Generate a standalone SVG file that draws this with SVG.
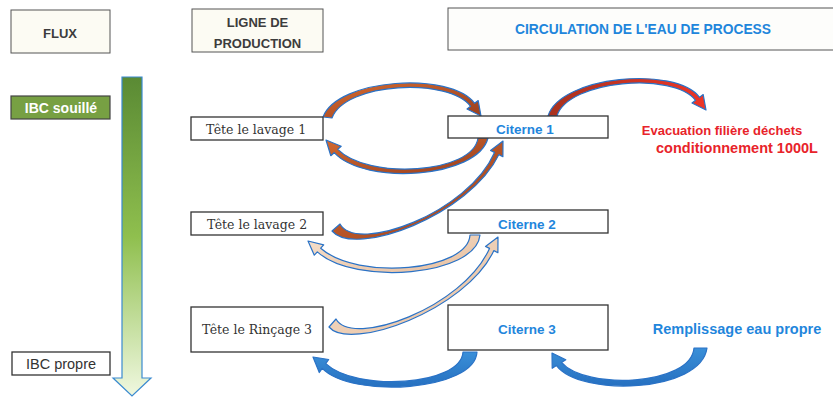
<svg xmlns="http://www.w3.org/2000/svg" width="833" height="397" viewBox="0 0 833 397">
<defs>
<linearGradient id="gGreen" x1="0" y1="0" x2="0" y2="1">
<stop offset="0" stop-color="#5a8a34"/><stop offset="0.5" stop-color="#8fbf4e"/><stop offset="1" stop-color="#f0f8e0"/>
</linearGradient>
<linearGradient id="gBrown" x1="0" y1="0" x2="1" y2="1">
<stop offset="0" stop-color="#d46a30"/><stop offset="1" stop-color="#9a3f1d"/>
</linearGradient>
<linearGradient id="gRed" x1="0" y1="0" x2="1" y2="0">
<stop offset="0" stop-color="#a8321e"/><stop offset="1" stop-color="#ee3526"/>
</linearGradient>
<linearGradient id="gPeach" x1="0" y1="0" x2="1" y2="1">
<stop offset="0" stop-color="#f6e0cc"/><stop offset="1" stop-color="#e7bf9f"/>
</linearGradient>
<linearGradient id="gBlue" x1="0" y1="0" x2="0" y2="1">
<stop offset="0" stop-color="#3a8fd8"/><stop offset="1" stop-color="#2670c0"/>
</linearGradient>
</defs>
<style>
.box{fill:#ffffff;stroke:#333333;stroke-width:1.3}
.hdr{fill:#fcfbf3;stroke:#555555;stroke-width:1}
.hdrt{font-family:"Liberation Sans",Arial,sans-serif;font-weight:bold;font-size:13px;fill:#3c3c3c;text-anchor:middle}
.blt{font-family:"Liberation Sans",Arial,sans-serif;font-weight:bold;font-size:13.5px;fill:#1f86dc}
.red{font-family:"Liberation Sans",Arial,sans-serif;font-weight:bold;font-size:13.5px;fill:#e8232a}
.tete{font-family:"DejaVu Serif","Liberation Serif",serif;font-size:12.5px;fill:#333333;text-anchor:middle}
.arr{stroke:#2a72c6;stroke-width:1.2;stroke-linejoin:round}
</style>

<g id="connectors">
<path class="arr" fill="url(#gBrown)" d="M323,117 C338,78 450.6,71.3 474.6,103.3 L478.2,100.6 L481,116 L467,109 L470.6,106.3 C449,77.5 345,82 332,118 Z"/>
<path class="arr" fill="url(#gBrown)" d="M488,138 C478,178 365,186 334.2,152.7 L330.8,155.7 L326,140 L341.2,146.3 L337.8,149.3 C368,180 473,174 478,138 Z"/>
<path class="arr" fill="url(#gBrown)" d="M332,231 C355,258 470,215 498.9,154.6 L502.9,156.7 L503,141 L490.5,150.4 L494.5,152.4 C468,213 357,254 340,224 Z"/>
<path class="arr" fill="url(#gRed)" d="M548,116 C560,76 675.6,65.3 699.6,97.3 L703.2,94.6 L706,110 L692,103 L695.6,100.3 C674,71.5 568,80 557,116 Z"/>
<path class="arr" fill="url(#gPeach)" d="M480,235 C476,276 355,286 317.3,251.9 L314.3,255.2 L308,241 L323.7,244.8 L320.7,248.2 C358,281 468,271 470,235 Z"/>
<path class="arr" fill="url(#gPeach)" d="M329,327 C350,352 466,310 493.9,250.6 L497.9,252.7 L498,237 L485.5,246.4 L489.5,248.4 C463,308 352,348 336,319 Z"/>
<path class="arr" fill="url(#gBlue)" d="M477,352 C475,391 352,399 322.2,368.4 L319.3,372.5 L313,357 L328.7,359.5 L325.8,363.6 C356,392 461,386 463,352 Z"/>
<path class="arr" fill="url(#gBlue)" d="M707,348 C701,393 580,397 556.5,365.6 L552.2,368.3 L552,353 L565.8,359.7 L561.5,362.4 C585,390 691,386 694,348 Z"/>
</g>

<g id="flux-arrow">
<path d="M122,77 L142,77 L142,378 L151,378 L132,396 L113,378 L122,378 Z" fill="url(#gGreen)" stroke="#3a8ad0" stroke-width="1.2"/>
</g>

<g id="hdr-flux">
<rect class="hdr" x="11" y="10" width="99" height="43"/>
<text class="hdrt" x="60" y="38">FLUX</text>
</g>
<g id="hdr-ligne">
<rect class="hdr" x="192" y="9" width="131" height="43"/>
<text class="hdrt" x="257.5" y="27">LIGNE DE</text>
<text class="hdrt" x="257.5" y="48">PRODUCTION</text>
</g>
<g id="hdr-circulation">
<rect class="hdr" x="448" y="8" width="400" height="42" style="fill:#fdfdfb"/>
<text class="hdrt" x="643" y="34" style="fill:#1f86dc;font-size:13.8px">CIRCULATION DE L'EAU DE PROCESS</text>
</g>

<g id="ibc-souille">
<rect x="11" y="96" width="99" height="23" fill="#77a043" stroke="#444444" stroke-width="1.2"/>
<text x="61" y="113" style="font-family:'Liberation Sans',Arial,sans-serif;font-weight:bold;font-size:14px;fill:#ffffff;text-anchor:middle">IBC souillé</text>
</g>
<g id="ibc-propre">
<rect class="box" x="12" y="352" width="98" height="23"/>
<text x="61" y="369" style="font-family:'Liberation Sans',Arial,sans-serif;font-size:14.5px;fill:#333333;text-anchor:middle">IBC propre</text>
</g>

<g id="tete1">
<rect class="box" x="191" y="117" width="132" height="23"/>
<text class="tete" x="256" y="133.5">Tête le lavage 1</text>
</g>
<g id="tete2">
<rect class="box" x="191" y="212" width="132" height="23"/>
<text class="tete" x="257" y="228.5">Tête le lavage 2</text>
</g>
<g id="tete3">
<rect class="box" x="191" y="307" width="132" height="45"/>
<text class="tete" x="257" y="334">Tête le Rinçage 3</text>
</g>

<g id="citerne1">
<rect class="box" x="448" y="116" width="160" height="22"/>
<text class="blt" x="525" y="134" text-anchor="middle">Citerne 1</text>
</g>
<g id="citerne2">
<rect class="box" x="448" y="210" width="160" height="23"/>
<text class="blt" x="527" y="229" text-anchor="middle">Citerne 2</text>
</g>
<g id="citerne3">
<rect class="box" x="448" y="305" width="160" height="45"/>
<text class="blt" x="527" y="334" text-anchor="middle">Citerne 3</text>
</g>

<g id="evacuation">
<text class="red" x="722" y="135" text-anchor="middle" style="font-size:13px">Evacuation filière déchets</text>
<text class="red" x="737" y="153" text-anchor="middle" style="font-size:14.5px">conditionnement 1000L</text>
</g>
<g id="remplissage">
<text class="blt" x="737" y="334" text-anchor="middle" style="font-size:14.5px">Remplissage eau propre</text>
</g>
</svg>
